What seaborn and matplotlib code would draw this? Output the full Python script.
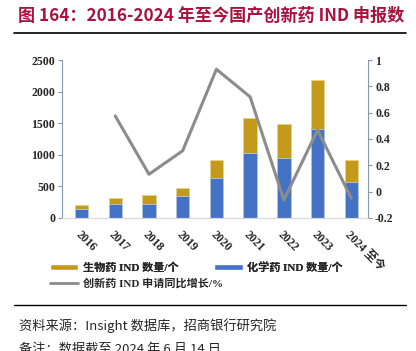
import numpy as np
import pandas as pd
import seaborn as sns
import matplotlib.pyplot as plt
from matplotlib.lines import Line2D
from matplotlib.patches import Patch

# data
years = ["2016", "2017", "2018", "2019", "2020", "2021", "2022", "2023", "2024 至今"]
chem = [138, 226, 221, 343, 638, 1033, 945, 1413, 574]
bio = [63, 90, 138, 132, 280, 549, 537, 766, 348]
growth = [np.nan, 0.575, 0.132, 0.311, 0.93, 0.72, -0.063, 0.468, -0.05]

df = pd.DataFrame({"year": years, "chem": chem, "bio": bio, "growth": growth})
df["total"] = df["chem"] + df["bio"]
df["pos"] = np.arange(len(df))

sns.set_style("white")
plt.rcParams["font.family"] = ["Liberation Serif", "Noto Sans CJK SC", "DejaVu Sans"]
plt.rcParams["font.weight"] = "bold"

gold = "#C49A1A"
blue = "#4472C4"
grey = "#8C8C8C"
red = "#A8123E"
spine_c = "#8496B0"

fig = plt.figure(figsize=(4.16, 3.51), dpi=100)
ax = fig.add_axes([0.149, 0.379, 0.736, 0.450])

sns.barplot(data=df, x="year", y="total", color=gold, width=0.4, saturation=1,
            edgecolor="#E8D08A", linewidth=0.6, ax=ax)
sns.barplot(data=df, x="year", y="chem", color=blue, width=0.4, saturation=1,
            edgecolor="#B4C7E7", linewidth=0.6, ax=ax)
ax.set_ylim(0, 2500)
ax.set_yticks(range(0, 2501, 500))
ax.set_xlim(-0.58, 8.5)
ax.set_xlabel("")
ax.set_ylabel("")

ax2 = ax.twinx()
sns.lineplot(data=df, x="pos", y="growth", color=grey, linewidth=2.2, ax=ax2)
ax2.set_ylim(-0.2, 1.0)
ax2.set_yticks([-0.2, 0, 0.2, 0.4, 0.6, 0.8, 1.0])
ax2.set_yticklabels(["-0.2", "0", "0.2", "0.4", "0.6", "0.8", "1"])
ax2.set_ylabel("")
ax2.set_xlim(-0.58, 8.5)

for a in (ax, ax2):
    a.spines["top"].set_visible(False)
    a.spines["left"].set_color(spine_c)
    a.spines["right"].set_color(spine_c)
    a.spines["bottom"].set_color("#D9D9D9")
    a.spines["left"].set_linewidth(0.8)
    a.spines["right"].set_linewidth(0.8)

ax.spines["right"].set_visible(False)
ax2.spines["left"].set_visible(False)
ax.tick_params(axis="y", which="both", left=True, length=3, color=spine_c, labelsize=8.5, pad=2)
ax.tick_params(axis="x", bottom=False, labelsize=8.5, pad=4)
ax2.tick_params(axis="y", right=True, length=3, color=spine_c, labelsize=8.5, pad=2)
for lbl in ax.get_xticklabels():
    lbl.set_rotation(-45)
    lbl.set_ha("left")
    lbl.set_va("top")
    lbl.set_rotation_mode("anchor")
    lbl.set_fontweight("bold")
for lbl in ax.get_yticklabels() + ax2.get_yticklabels():
    lbl.set_fontweight("bold")

# title and rules
fig.text(0.043, 0.955, "图 164：2016-2024 年至今国产创新药 IND 申报数", color=red,
         fontsize=12.3, fontweight="bold", family=["Noto Sans CJK SC", "DejaVu Sans"],
         va="center", ha="left")
fig.add_artist(Line2D([0.034, 0.976], [0.906, 0.906], color="black", linewidth=1.2))
fig.add_artist(Line2D([0.034, 0.976], [0.131, 0.131], color="black", linewidth=1.0))

# legend
handles = [Patch(facecolor=gold), Patch(facecolor=blue), Line2D([], [], color=grey, linewidth=2)]
labels = ["生物药 IND 数量/个", "化学药 IND 数量/个", "创新药 IND 申请同比增长/%"]
leg = fig.legend(handles[:2], labels[:2], ncol=2, loc="center left",
                 bbox_to_anchor=(0.095, 0.238), frameon=False, fontsize=8,
                 handlelength=2.6, handleheight=0.5, columnspacing=3.2, handletextpad=0.4)
fig.add_artist(leg)
fig.legend(handles[2:], labels[2:], loc="center left", bbox_to_anchor=(0.095, 0.193),
           frameon=False, fontsize=8, handlelength=2.6, handletextpad=0.4)

fig.text(0.045, 0.072, "资料来源：Insight 数据库，招商银行研究院", fontsize=9.5,
         family=["Noto Sans CJK SC", "DejaVu Sans"], fontweight="normal", va="center", ha="left")
fig.text(0.045, 0.005, "备注：数据截至 2024 年 6 月 14 日", fontsize=9.5,
         family=["Noto Sans CJK SC", "DejaVu Sans"], fontweight="normal", va="center", ha="left")

fig.savefig("out.png", dpi=100)
